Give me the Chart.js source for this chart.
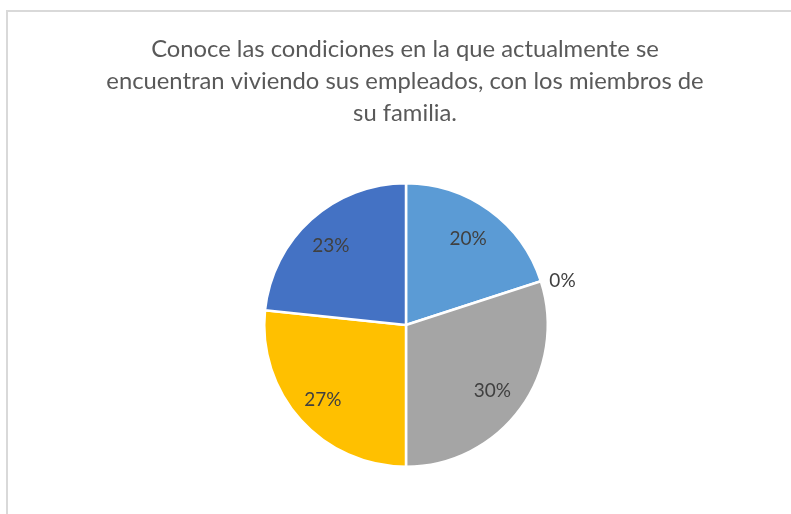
<!DOCTYPE html>
<html>
<head>
<meta charset="utf-8">
<script src="https://cdn.jsdelivr.net/npm/chart.js@4/dist/chart.umd.min.js"></script>
<style>
  html, body { margin: 0; padding: 0; background: #ffffff; overflow: hidden; }
  #wrap { position: relative; width: 791px; height: 514px; }
  #frame { position: absolute; left: 6px; top: 10px; width: 1200px; height: 1200px; border: 2px solid #d9d9d9; box-sizing: border-box; }
  #c { position: absolute; left: 0; top: 0; }
</style>
</head>
<body>
<div id="wrap">
  <div id="frame"></div>
  <canvas id="c" width="791" height="514"></canvas>
</div>
<script>
const titleLines = [
  "Conoce las condiciones en la que actualmente se",
  "encuentran viviendo sus empleados, con los miembros de",
  "su familia."
];
const categories = ["Categoría 1", "Categoría 2", "Categoría 3", "Categoría 4", "Categoría 5"];
const values = [6, 0, 9, 8, 7];
const colors = ["#5B9BD5", "#ED7D31", "#A5A5A5", "#FFC000", "#4472C4"];

const FONT = "Lato, 'Open Sans', sans-serif";

const titlePlugin = {
  id: "titleLines",
  afterDraw(chart) {
    const ctx = chart.ctx;
    ctx.save();
    ctx.fillStyle = "#595959";
    ctx.font = "23.8px " + FONT;
    ctx.textAlign = "center";
    ctx.textBaseline = "alphabetic";
    titleLines.forEach((line, i) => {
      ctx.fillText(line, 405, 57 + i * 32);
    });
    ctx.restore();
  }
};

const pctLabels = {
  id: "pctLabels",
  afterDatasetsDraw(chart) {
    const ctx = chart.ctx;
    const meta = chart.getDatasetMeta(0);
    const data = chart.data.datasets[0].data;
    const total = data.reduce((a, b) => a + b, 0);
    ctx.save();
    ctx.fillStyle = "#404040";
    ctx.font = "19px " + FONT;
    ctx.textBaseline = "middle";
    meta.data.forEach((arc, i) => {
      const p = arc.getProps(["x", "y", "startAngle", "endAngle", "outerRadius"], true);
      const mid = (p.startAngle + p.endAngle) / 2;
      const txt = Math.round(data[i] / total * 100) + "%";
      if (data[i] === 0) {
        const r = p.outerRadius + 9;
        ctx.textAlign = "left";
        ctx.fillText(txt, p.x + Math.cos(mid) * r, p.y + Math.sin(mid) * r + 2);
      } else {
        const r = p.outerRadius * 0.77;
        ctx.textAlign = "center";
        ctx.fillText(txt, p.x + Math.cos(mid) * r - 2, p.y + Math.sin(mid) * r + 2);
      }
    });
    ctx.restore();
  }
};

new Chart(document.getElementById("c"), {
  type: "pie",
  data: {
    labels: categories,
    datasets: [{
      data: values,
      backgroundColor: colors,
      borderColor: "#ffffff",
      borderWidth: 2.5,
      hoverOffset: 0,
      offset: 0
    }]
  },
  options: {
    responsive: false,
    animation: false,
    events: [],
    layout: { padding: { left: 263, right: 242, top: 182, bottom: 46 } },
    plugins: {
      legend: { display: false },
      tooltip: { enabled: false },
      title: { display: false }
    }
  },
  plugins: [pctLabels, titlePlugin]
});
</script>
</body>
</html>
